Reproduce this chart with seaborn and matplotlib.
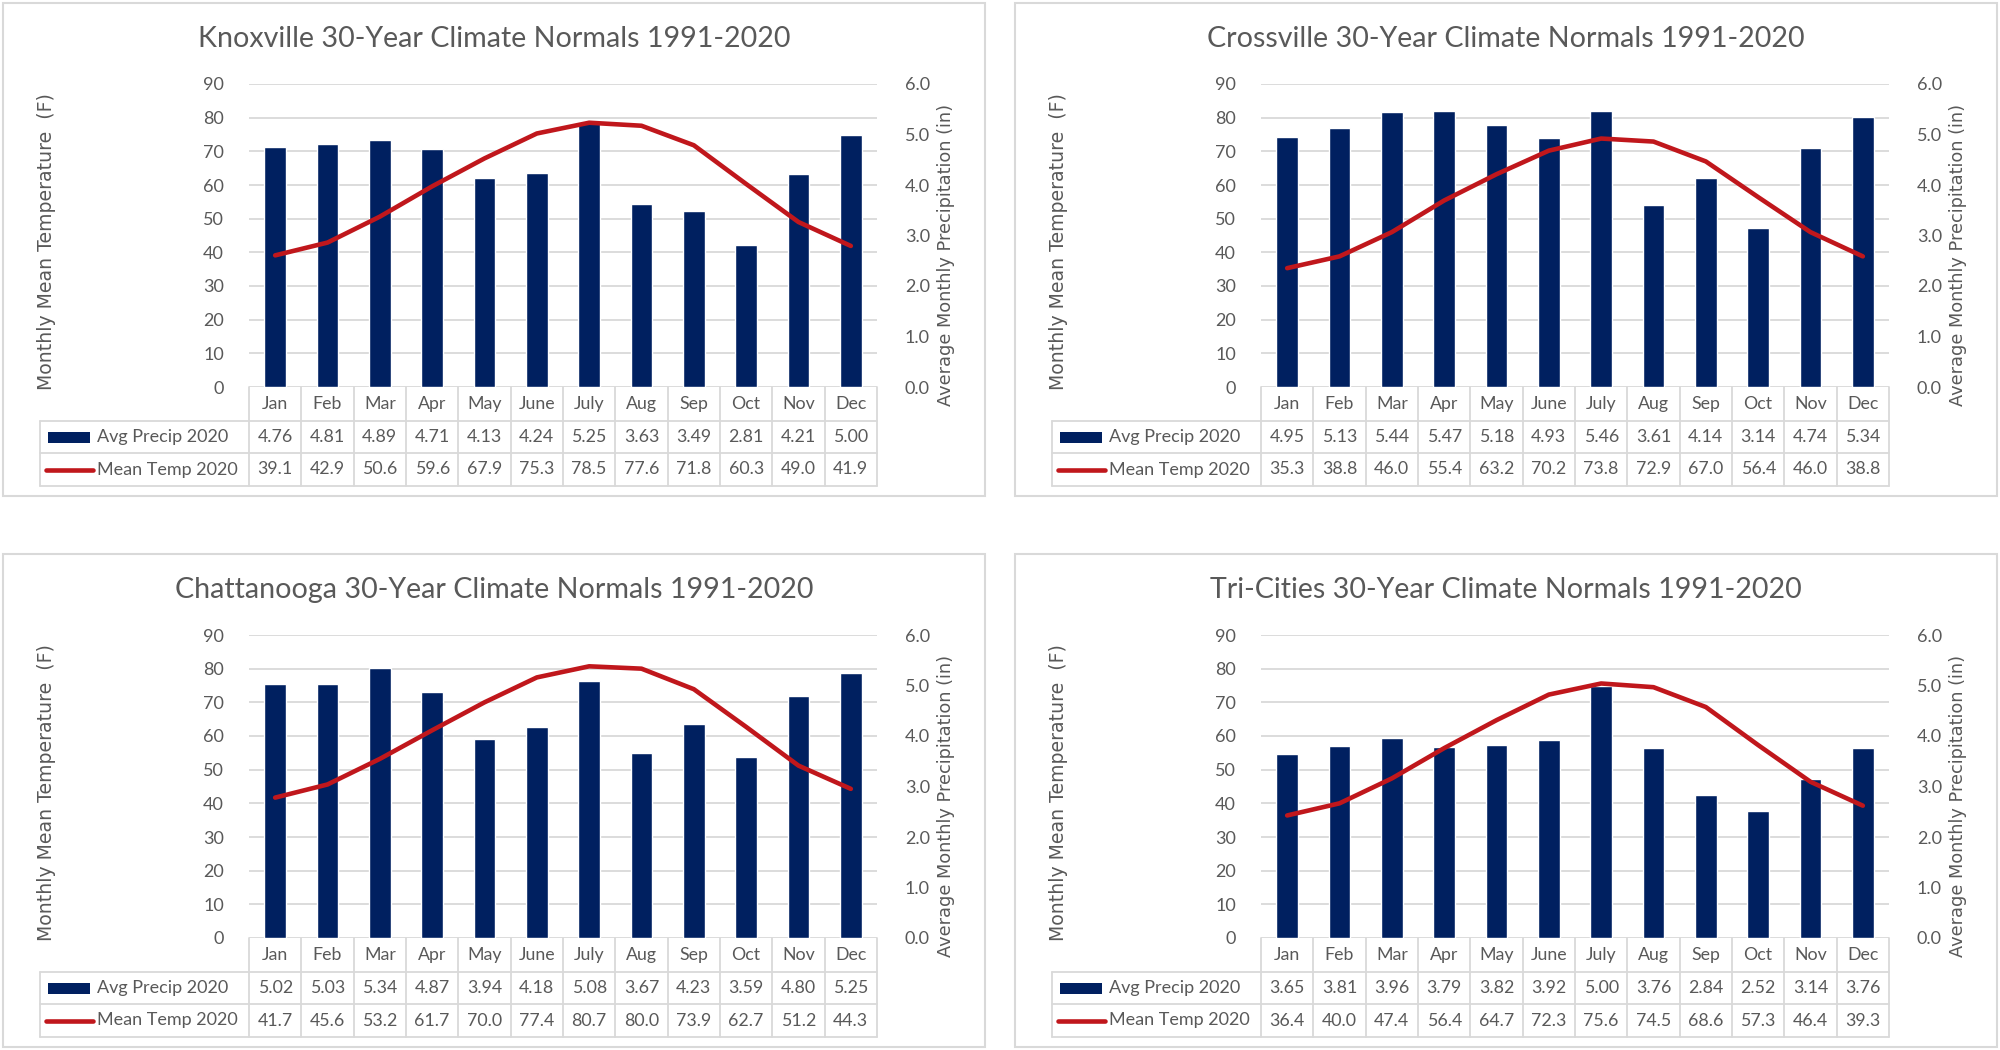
import numpy as np
import pandas as pd
import matplotlib
matplotlib.use("Agg")
import matplotlib.pyplot as plt
import matplotlib.transforms as mtransforms
from matplotlib.patches import Rectangle
from matplotlib.lines import Line2D
import seaborn as sns

# ---------------- data ----------------
months = ["Jan", "Feb", "Mar", "Apr", "May", "June", "July", "Aug", "Sep", "Oct", "Nov", "Dec"]

stations = ["Knoxville", "Crossville", "Chattanooga", "Tri-Cities"]

knox_precip = [4.76, 4.81, 4.89, 4.71, 4.13, 4.24, 5.25, 3.63, 3.49, 2.81, 4.21, 5.00]
knox_temp = [39.1, 42.9, 50.6, 59.6, 67.9, 75.3, 78.5, 77.6, 71.8, 60.3, 49.0, 41.9]

cross_precip = [4.95, 5.13, 5.44, 5.47, 5.18, 4.93, 5.46, 3.61, 4.14, 3.14, 4.74, 5.34]
cross_temp = [35.3, 38.8, 46.0, 55.4, 63.2, 70.2, 73.8, 72.9, 67.0, 56.4, 46.0, 38.8]

chatt_precip = [5.02, 5.03, 5.34, 4.87, 3.94, 4.18, 5.08, 3.67, 4.23, 3.59, 4.80, 5.25]
chatt_temp = [41.7, 45.6, 53.2, 61.7, 70.0, 77.4, 80.7, 80.0, 73.9, 62.7, 51.2, 44.3]

tri_precip = [3.65, 3.81, 3.96, 3.79, 3.82, 3.92, 5.00, 3.76, 2.84, 2.52, 3.14, 3.76]
tri_temp = [36.4, 40.0, 47.4, 56.4, 64.7, 72.3, 75.6, 74.5, 68.6, 57.3, 46.4, 39.3]

precip_sets = [knox_precip, cross_precip, chatt_precip, tri_precip]
temp_sets = [knox_temp, cross_temp, chatt_temp, tri_temp]

temp_ticks = list(range(0, 91, 10))
precip_ticks = [0.0, 1.0, 2.0, 3.0, 4.0, 5.0, 6.0]

title_suffix = " 30-Year Climate Normals 1991-2020"
precip_label = "Avg Precip 2020"
temp_label = "Mean Temp 2020"
left_ylabel = "Monthly Mean Temperature  (F)"
right_ylabel = "Average Monthly Precipitation (in)"

# ---------------- style ----------------
NAVY = "#002060"
RED = "#C0171C"
TXT = "#595959"
GRID = "#D9D9D9"

sns.set_theme(style="white")
plt.rcParams["font.family"] = ["Lato", "DejaVu Sans"]

W, H = 2000, 1050
fig = plt.figure(figsize=(W / 100, H / 100), dpi=100)
fig.patch.set_facecolor("white")


def fx(x):
    return x / W


def fy(y):
    return 1 - y / H


offsets = [(0, 0), (1012, 0), (0, 551), (1012, 551)]

# base geometry (pixels) for the first panel
PL, PR, PT, PB = 249, 877, 84, 387
ROW1, ROW2, ROW3 = 421, 453, 486
TLEFT = 40

for k, (dx, dy) in enumerate(offsets):
    precip = precip_sets[k]
    temp = temp_sets[k]
    df = pd.DataFrame({"month": months, "precip": precip, "temp": temp})

    # panel frame
    fig.add_artist(Rectangle((fx(3 + dx), fy(496 + dy)), fx(982), (493) / H,
                             transform=fig.transFigure, fill=False,
                             edgecolor=GRID, lw=1.5))

    rect = [fx(PL + dx), fy(PB + dy), fx(PR - PL), (PB - PT) / H]
    ax_bg = fig.add_axes(rect)
    ax_bar = ax_bg.twinx()
    ax_line = ax_bg.twinx()
    ax_bg.set_zorder(1)
    ax_bar.set_zorder(2)
    ax_line.set_zorder(3)
    for a in (ax_bar, ax_line):
        a.patch.set_visible(False)

    # bars (precip)
    sns.barplot(data=df, x="month", y="precip", order=months, color=NAVY,
                saturation=1, width=0.42, ax=ax_bar)
    # line (temp)
    sns.lineplot(data=df, x="month", y="temp", sort=False, color=RED,
                 lw=3.3, ax=ax_line)

    for a in (ax_bg, ax_bar, ax_line):
        a.set_xlim(-0.5, len(months) - 0.5)
        for s in a.spines.values():
            s.set_visible(False)
        a.set_xlabel("")
        a.set_ylabel("")
        a.tick_params(axis="x", which="both", length=0, labelbottom=False,
                      labeltop=False, bottom=False)

    ax_bg.set_ylim(0, 90)
    ax_line.set_ylim(0, 90)
    ax_bar.set_ylim(0, 6)

    ax_bg.set_yticks(temp_ticks)
    ax_bg.set_yticklabels([str(t) for t in temp_ticks])
    ax_bg.yaxis.grid(True, color=GRID, lw=1.3)
    ax_bg.xaxis.grid(False)
    ax_bg.tick_params(axis="y", length=0, pad=18, labelsize=13, labelcolor=TXT)

    ax_bar.set_yticks(precip_ticks)
    ax_bar.set_yticklabels([f"{t:.1f}" for t in precip_ticks])
    ax_bar.tick_params(axis="y", length=0, pad=20, labelsize=13, labelcolor=TXT)
    ax_bar.grid(False)

    ax_line.set_yticks([])
    ax_line.grid(False)
    leg = ax_line.get_legend()
    if leg:
        leg.remove()

    # axis titles
    fig.text(fx(47 + dx), fy(242 + dy), left_ylabel, rotation=90, ha="center",
             va="center", fontsize=13.6, color=TXT, family=["DejaVu Sans"])
    fig.text(fx(946 + dx), fy(255 + dy), right_ylabel, rotation=90, ha="center",
             va="center", fontsize=12.8, color=TXT, family=["DejaVu Sans"])

    # chart title
    fig.text(fx(494 + dx), fy(39 + dy), stations[k] + title_suffix, ha="center",
             va="center", fontsize=20.6, color=TXT)

    # ---------------- data table ----------------
    bt = mtransforms.blended_transform_factory(ax_bar.transData, fig.transFigure)
    ft = fig.transFigure
    y_top, y1, y2, y3 = fy(PB + dy), fy(ROW1 + dy), fy(ROW2 + dy), fy(ROW3 + dy)
    n = len(months)
    # vertical lines in month columns
    for i in range(n + 1):
        fig.add_artist(Line2D([i - 0.5, i - 0.5], [y_top, y3], transform=bt,
                              color=GRID, lw=1.3))
    # horizontal lines
    for yy in (y1, y2, y3):
        fig.add_artist(Line2D([fx(TLEFT + dx), fx(PR + dx)], [yy, yy],
                              transform=ft, color=GRID, lw=1.3))
    fig.add_artist(Line2D([fx(TLEFT + dx), fx(TLEFT + dx)], [y1, y3],
                          transform=ft, color=GRID, lw=1.3))
    # month header
    ym = (y_top + y1) / 2
    y_p = (y1 + y2) / 2
    y_t = (y2 + y3) / 2
    for i, m in enumerate(months):
        fig.text(i, ym, m, transform=bt, ha="center", va="center",
                 fontsize=12.8, color=TXT)
        fig.text(i, y_p, f"{precip[i]:.2f}", transform=bt, ha="center",
                 va="center", fontsize=12.8, color=TXT)
        fig.text(i, y_t, f"{temp[i]:.1f}", transform=bt, ha="center",
                 va="center", fontsize=12.8, color=TXT)
    # legend keys
    fig.add_artist(Rectangle((fx(48 + dx), y_p - 5.5 / H), fx(42), 11 / H,
                             transform=ft, facecolor=NAVY, edgecolor="none"))
    fig.add_artist(Line2D([fx(46 + dx), fx(93 + dx)], [y_t, y_t], transform=ft,
                          color=RED, lw=3.3, solid_capstyle="round"))
    fig.text(fx(97 + dx), y_p, precip_label, ha="left", va="center",
             fontsize=13, color=TXT)
    fig.text(fx(97 + dx), y_t, temp_label, ha="left", va="center",
             fontsize=13, color=TXT)

fig.savefig("out.png", dpi=100, facecolor="white")
